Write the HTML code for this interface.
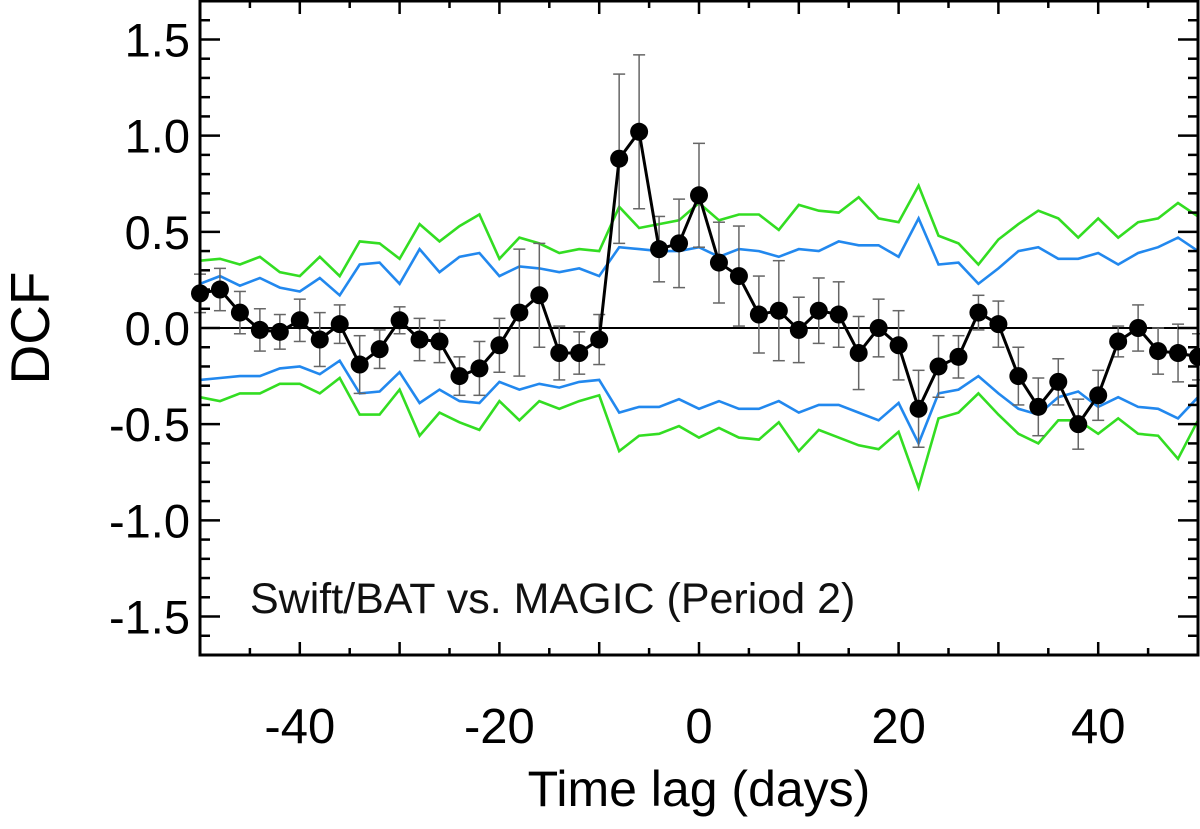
<!DOCTYPE html>
<html><head><meta charset="utf-8"><style>
html,body{margin:0;padding:0;background:#fff;}
svg{display:block;font-family:"Liberation Sans",Arial,sans-serif;}
</style></head><body>
<svg id="chart" width="1200" height="829" viewBox="0 0 1200 829" xmlns="http://www.w3.org/2000/svg">
<g id="grp-green"></g>
<g id="grp-blue"></g>
<line id="zeroline" stroke="#000" stroke-width="2"/>
<g id="grp-err"></g>
<g id="grp-pts"></g>
<g id="grp-axes"></g>
<text x="250" y="613" font-size="43" fill="#111">Swift/BAT vs. MAGIC (Period 2)</text>
<text x="699" y="806" font-size="50" text-anchor="middle">Time lag (days)</text>
<text transform="translate(49,328) rotate(-90)" font-size="55" text-anchor="middle">DCF</text>
</svg>
<script>
const lags = [];
for (let l = -50; l <= 50; l += 2) lags.push(l);
const dcf = [0.18,0.20,0.08,-0.01,-0.02,0.04,-0.06,0.02,-0.19,-0.11,0.04,-0.06,-0.07,-0.25,-0.21,-0.09,0.08,0.17,-0.13,-0.13,-0.06,0.88,1.02,0.41,0.44,0.69,0.34,0.27,0.07,0.09,-0.01,0.09,0.07,-0.13,0.0,-0.09,-0.42,-0.2,-0.15,0.08,0.02,-0.25,-0.41,-0.28,-0.50,-0.35,-0.07,0.0,-0.12,-0.13,-0.15];
const dcfErr = [0.10,0.11,0.11,0.11,0.09,0.11,0.14,0.10,0.15,0.10,0.07,0.11,0.11,0.10,0.14,0.14,0.33,0.27,0.14,0.11,0.13,0.44,0.40,0.17,0.23,0.27,0.21,0.26,0.20,0.26,0.17,0.17,0.17,0.19,0.15,0.18,0.20,0.16,0.11,0.09,0.12,0.15,0.15,0.12,0.13,0.13,0.08,0.12,0.12,0.15,0.12];
const blueUpper = [0.23,0.27,0.22,0.26,0.21,0.19,0.26,0.17,0.33,0.34,0.23,0.41,0.29,0.37,0.39,0.27,0.32,0.31,0.29,0.31,0.27,0.42,0.41,0.40,0.40,0.42,0.37,0.41,0.40,0.37,0.41,0.40,0.45,0.43,0.43,0.37,0.57,0.33,0.34,0.23,0.31,0.40,0.42,0.36,0.36,0.39,0.33,0.39,0.42,0.47,0.40];
const blueLower = [-0.27,-0.26,-0.25,-0.25,-0.21,-0.20,-0.24,-0.17,-0.34,-0.33,-0.23,-0.39,-0.32,-0.38,-0.39,-0.28,-0.32,-0.29,-0.31,-0.28,-0.27,-0.44,-0.41,-0.41,-0.37,-0.42,-0.38,-0.42,-0.42,-0.38,-0.44,-0.40,-0.40,-0.44,-0.48,-0.39,-0.60,-0.34,-0.32,-0.25,-0.34,-0.42,-0.45,-0.36,-0.33,-0.41,-0.36,-0.41,-0.42,-0.47,-0.36];
const greenUpper = [0.35,0.36,0.33,0.37,0.29,0.27,0.37,0.27,0.45,0.44,0.36,0.54,0.45,0.53,0.59,0.36,0.47,0.44,0.39,0.41,0.40,0.63,0.52,0.54,0.56,0.65,0.56,0.59,0.59,0.51,0.64,0.61,0.60,0.68,0.57,0.55,0.74,0.48,0.44,0.33,0.46,0.54,0.61,0.57,0.47,0.57,0.47,0.55,0.57,0.65,0.58];
const greenLower = [-0.36,-0.38,-0.34,-0.34,-0.29,-0.29,-0.34,-0.26,-0.45,-0.45,-0.32,-0.56,-0.44,-0.49,-0.53,-0.38,-0.48,-0.38,-0.42,-0.38,-0.35,-0.64,-0.56,-0.55,-0.51,-0.57,-0.52,-0.57,-0.58,-0.49,-0.64,-0.53,-0.57,-0.61,-0.63,-0.54,-0.83,-0.47,-0.44,-0.34,-0.45,-0.55,-0.60,-0.48,-0.48,-0.55,-0.47,-0.55,-0.56,-0.68,-0.48];
const xTicks = [-40,-20,0,20,40];
const yTicks = [-1.5,-1.0,-0.5,0.0,0.5,1.0,1.5];

const NS = "http://www.w3.org/2000/svg";
const L = 200, R = 1198, T = 1, B = 655;
const xMin = -50, xMax = 50, yMin = -1.7, yMax = 1.7;
function sx(v){ return L + (v - xMin) / (xMax - xMin) * (R - L); }
function sy(v){ return B - (v - yMin) / (yMax - yMin) * (B - T); }
function mk(tag, attrs, parent){ const e = document.createElementNS(NS, tag); for (const k in attrs) e.setAttribute(k, attrs[k]); parent.appendChild(e); return e; }
function pts(arr){ return arr.map((v,i)=>sx(lags[i]).toFixed(1)+","+sy(v).toFixed(1)).join(" "); }

const gG = document.getElementById("grp-green"), gB = document.getElementById("grp-blue");
let p;
p = mk("polyline",{points:pts(greenUpper),fill:"none",stroke:"#33dd22","stroke-width":2.6},gG);


p = mk("polyline",{points:pts(greenLower),fill:"none",stroke:"#33dd22","stroke-width":2.6},gG);


p = mk("polyline",{points:pts(blueUpper),fill:"none",stroke:"#2288ee","stroke-width":2.6},gB);


p = mk("polyline",{points:pts(blueLower),fill:"none",stroke:"#2288ee","stroke-width":2.6},gB);



const z = document.getElementById("zeroline");
z.setAttribute("x1", L); z.setAttribute("x2", R); z.setAttribute("y1", sy(0)); z.setAttribute("y2", sy(0));

const gE = document.getElementById("grp-err");
lags.forEach((l,i)=>{
  const x = sx(l), y1 = sy(dcf[i]+dcfErr[i]), y2 = sy(dcf[i]-dcfErr[i]);
  const g = mk("g",{stroke:"#666","stroke-width":1.5},gE);
  
  
  mk("line",{x1:x,x2:x,y1:y1,y2:y2},g);
  mk("line",{x1:x-6,x2:x+6,y1:y1,y2:y1},g);
  mk("line",{x1:x-6,x2:x+6,y1:y2,y2:y2},g);
});

const gP = document.getElementById("grp-pts");
p = mk("polyline",{points:pts(dcf),fill:"none",stroke:"#000","stroke-width":3},gP);


lags.forEach((l,i)=>{
  const c = mk("circle",{cx:sx(l),cy:sy(dcf[i]),r:9,fill:"#000"},gP);
  
  
});

const gA = document.getElementById("grp-axes");
const box = mk("rect",{x:L,y:T,width:R-L,height:B-T,fill:"none",stroke:"#000","stroke-width":3},gA);


for (let v = -45; v <= 45; v += 5){
  const major = v % 10 === 0, len = major ? 13 : 7, x = sx(v);
  mk("line",{x1:x,x2:x,y1:B,y2:B-len,stroke:"#000","stroke-width":2.5},gA);
  mk("line",{x1:x,x2:x,y1:T,y2:T+len,stroke:"#000","stroke-width":2.5},gA);
}
for (let k = -16; k <= 16; k++){
  const v = k/10, major = k % 5 === 0, len = major ? 20 : 10, y = sy(v);
  mk("line",{x1:L,x2:L+len,y1:y,y2:y,stroke:"#000","stroke-width":2.5},gA);
  mk("line",{x1:R,x2:R-len,y1:y,y2:y,stroke:"#000","stroke-width":2.5},gA);
}
xTicks.forEach(v=>{
  const t = mk("text",{x:sx(v),y:743,"font-size":49,"text-anchor":"middle"},gA);
  t.textContent = String(v);
  
  
});
yTicks.forEach(v=>{
  const t = mk("text",{x:190,y:sy(v)+17,"font-size":47,"text-anchor":"end"},gA);
  t.textContent = v.toFixed(1);
  
  
});
</script>
</body></html>
